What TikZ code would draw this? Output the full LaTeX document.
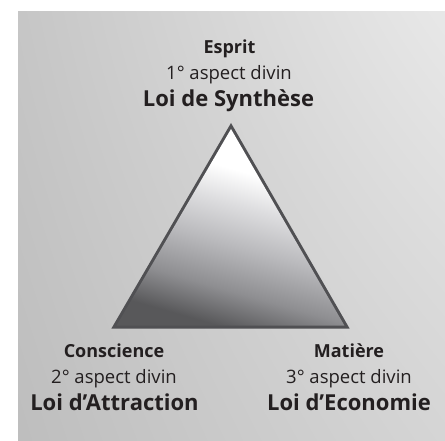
\documentclass[tikz,border=0pt]{standalone}
\usepackage{fontspec}
\setmainfont{Open Sans}
\definecolor{txt}{RGB}{35,31,32}
\definecolor{edgec}{RGB}{80,80,83}
\definecolor{ta}{RGB}{88,88,90}
\definecolor{tb}{RGB}{142,142,145}
\definecolor{tc}{RGB}{186,186,189}
\definecolor{td}{RGB}{222,222,224}
\definecolor{te}{RGB}{255,255,255}
\pgfdeclareverticalshading{tri}{100bp}{color(0bp)=(ta); color(26bp)=(ta); color(35bp)=(tb); color(46bp)=(tc); color(56bp)=(td); color(64bp)=(te); color(100bp)=(te)}
\pgfdeclarefunctionalshading{bgshade}{\pgfpoint{-50bp}{-50bp}}{\pgfpoint{50bp}{50bp}}{}{%
50 sub dup mul exch dup 50 add 100 div 0.14 mul 0.70 add 3 1 roll 50 sub dup mul add sqrt 130 div 1 exch sub dup abs add 2 div dup mul 1 index 1 exch sub mul add dup dup}
\tikzset{
  lab/.style={text=txt, anchor=base, inner sep=0pt},
  reg/.style={lab, font=\fontsize{18.5}{20}\selectfont},
  bld/.style={lab, font=\bfseries\fontsize{22}{24}\selectfont},
  head/.style={lab, font=\bfseries\fontsize{18}{20}\selectfont},
}
\begin{document}
\begin{tikzpicture}[x=1pt,y=1pt]
\useasboundingbox (0,0) rectangle (445,440);
\shade[shading=bgshade] (18,0) rectangle (445,428);
% outline as a filled band
\fill[edgec] (231.0,317.0) -- (349.6,111.5) -- (111.4,111.5) -- cycle;
\shade[shading=tri, shading angle=-16]
  (231.0,311.0) -- (344.4,114.5) -- (116.6,114.5) -- cycle;
\node[head] (esprit) at (229.5,386) {Esprit};
\node[reg] (asp1) at (229,360) {1° aspect divin};
\node[bld] (loi1) at (228.5,333) {Loi de Synthèse};
\node[head] (consc) at (114,83) {Conscience};
\node[reg] (asp2) at (114,57) {2° aspect divin};
\node[bld] (loi2) at (114.5,30) {Loi d’Attraction};
\node[head] (mat) at (349,83) {Matière};
\node[reg] (asp3) at (349,57) {3° aspect divin};
\node[bld] (loi3) at (349,30) {Loi d’Economie};
\end{tikzpicture}
\end{document}
